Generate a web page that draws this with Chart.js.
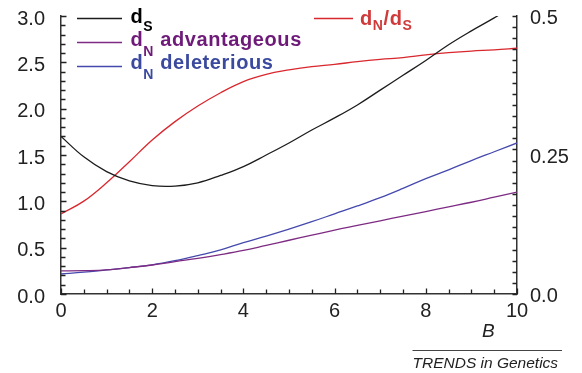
<!DOCTYPE html>
<html><head><meta charset="utf-8">
<script src="https://cdn.jsdelivr.net/npm/chart.js@4/dist/chart.umd.min.js"></script>
<style>html,body{margin:0;padding:0;background:#fff;}#wrap{width:582px;height:373px;position:relative;}</style>
</head><body><div id="wrap"><canvas id="c" width="582" height="373"></canvas></div>
<script>
// ---- data ----
const B = [0,0.5,1,1.5,2,2.5,3,3.5,4,4.5,5,5.5,6,6.5,7,7.5,8,8.5,9,9.5,10];
const dS     = [1.70,1.48,1.32,1.22,1.17,1.165,1.20,1.28,1.375,1.50,1.63,1.77,1.90,2.04,2.20,2.36,2.52,2.69,2.84,2.98,3.13];
const dNadv  = [0.25,0.252,0.26,0.285,0.313,0.35,0.385,0.425,0.47,0.525,0.58,0.635,0.69,0.74,0.79,0.84,0.89,0.94,0.99,1.045,1.10];
const dNdel  = [0.216,0.235,0.26,0.285,0.315,0.36,0.415,0.475,0.555,0.625,0.70,0.78,0.865,0.95,1.04,1.14,1.245,1.34,1.44,1.535,1.63];
const ratio  = [0.144,0.167,0.200,0.238,0.277,0.310,0.338,0.362,0.382,0.395,0.403,0.409,0.413,0.418,0.422,0.425,0.430,0.434,0.437,0.439,0.442];
const xTickStep = 2, xMinorStep = 0.5;
const yLeftMax = 3.0, yLeftStep = 0.5, yLeftMinor = 0.1;
const yRightMax = 0.5, yRightStep = 0.25, yRightMinor = 0.02;
const legendItems = [
  {parts:[['d',0],['S',1]], line:'#1c1c1c', text:'#000000'},
  {parts:[['d',0],['N',1],[' advantageous',0]], line:'#7d2b83', text:'#6e1a78'},
  {parts:[['d',0],['N',1],[' deleterious',0]], line:'#4549ad', text:'#3b4a9e'},
  {parts:[['d',0],['N',1],['/d',0],['S',1]], line:'#d9272e', text:'#cf3a3a'}
];
const footer = 'TRENDS in Genetics';
const xTitle = 'B';

const pts = arr => B.map((b,i)=>({x:b,y:arr[i]}));
const FONT = '"Liberation Sans", Arial, Helvetica, sans-serif';

const decor = {
  id:'decor',
  afterDraw(chart){
    const ctx = chart.ctx;
    const sx = chart.scales.x, sy = chart.scales.y, sy1 = chart.scales.y1;
    const ca = chart.chartArea;
    ctx.save();
    ctx.strokeStyle = '#222'; ctx.lineWidth = 1.3;
    // inward tick marks
    ctx.beginPath();
    for (let i=0; i<=Math.round(10/xMinorStep); i++){
      const v = i*xMinorStep;
      const px = Math.round(sx.getPixelForValue(v))+0.5;
      const major = (i % Math.round(xTickStep/xMinorStep))===0;
      ctx.moveTo(px, ca.bottom); ctx.lineTo(px, ca.bottom-(major?5.5:4.5));
    }
    for (let i=0; i<=Math.round(yLeftMax/yLeftMinor); i++){
      const v = i*yLeftMinor;
      const py = Math.round(sy.getPixelForValue(v))+0.5;
      const major = (i % Math.round(yLeftStep/yLeftMinor))===0;
      ctx.moveTo(ca.left, py); ctx.lineTo(ca.left+(major?5.5:4.5), py);
    }
    for (let i=0; i<=Math.round(yRightMax/yRightMinor); i++){
      const v = i*yRightMinor;
      const py = Math.round(sy1.getPixelForValue(v))+0.5;
      ctx.moveTo(ca.right, py); ctx.lineTo(ca.right-4.5, py);
    }
    ctx.stroke();

    // legend
    const pos = [
      {lx:77, lx2:122, ly:18.5, tx:130.5, by:22.5, sub:8},
      {lx:77, lx2:122, ly:42.5, tx:130.5, by:45.5, sub:10},
      {lx:77, lx2:122, ly:66.5, tx:130.5, by:68.5, sub:10},
      {lx:314, lx2:353, ly:18.5, tx:360, by:25, sub:5}
    ];
    legendItems.forEach((it,i)=>{
      const p = pos[i];
      ctx.strokeStyle = it.line; ctx.lineWidth = 1.3;
      ctx.beginPath(); ctx.moveTo(p.lx,p.ly); ctx.lineTo(p.lx2,p.ly); ctx.stroke();
      let cx = p.tx;
      ctx.fillStyle = it.text; ctx.textBaseline='alphabetic'; ctx.textAlign='left';
      try { ctx.letterSpacing = '0.6px'; } catch(e){}
      it.parts.forEach(([t,s])=>{
        ctx.font = s ? 'bold 14px '+FONT : 'bold 20px '+FONT;
        ctx.fillText(t, cx, s ? p.by+p.sub : p.by);
        cx += ctx.measureText(t).width;
      });
      try { ctx.letterSpacing = '0px'; } catch(e){}
    });

    // axis title
    ctx.fillStyle = '#222';
    ctx.font = 'italic 19px '+FONT;
    ctx.textAlign='left';
    ctx.fillText(xTitle, 482, 337);

    // footer
    ctx.strokeStyle = '#444'; ctx.lineWidth = 1;
    ctx.beginPath(); ctx.moveTo(412.5,350.5); ctx.lineTo(562,350.5); ctx.stroke();
    ctx.font = 'italic 15.5px '+FONT;
    ctx.fillStyle = '#222';
    ctx.fillText(footer, 412.5, 367.5);
    ctx.restore();
  }
};

const noPad = s => { s.paddingTop = 0; s.paddingBottom = 0; s.paddingLeft = 0; s.paddingRight = 0; };
const tickFont = {family: FONT, size: 20};
new Chart(document.getElementById('c'), {
  type:'line',
  data:{datasets:[
    {label:'dS', data:pts(dS), borderColor:'#1c1c1c', yAxisID:'y'},
    {label:'dN advantageous', data:pts(dNadv), borderColor:'#7d2b83', yAxisID:'y'},
    {label:'dN deleterious', data:pts(dNdel), borderColor:'#4549ad', yAxisID:'y'},
    {label:'dN/dS', data:pts(ratio), borderColor:'#d9272e', yAxisID:'y1'}
  ]},
  options:{
    responsive:false, animation:false,
    layout:{padding:{top:16,left:0,right:0,bottom:0}},
    elements:{line:{borderWidth:1.3, tension:0.4, fill:false}, point:{radius:0}},
    plugins:{legend:{display:false}, tooltip:{enabled:false}},
    scales:{
      x:{type:'linear', min:0, max:10,
         ticks:{stepSize:xTickStep, color:'#222', font:tickFont, padding:5, maxRotation:0},
         grid:{display:false, drawTicks:false},
         border:{display:true, color:'#333', width:1.5},
         afterFit(s){ s.height = 79; noPad(s); }},
      y:{type:'linear', position:'left', min:0, max:yLeftMax,
         ticks:{stepSize:yLeftStep, color:'#222', font:tickFont, padding:16, labelOffset:3,
                callback:v=>v.toFixed(1)},
         grid:{display:false, drawTicks:false},
         border:{display:true, color:'#333', width:1.5},
         afterFit(s){ s.width = 61; noPad(s); }},
      y1:{type:'linear', position:'right', min:0, max:yRightMax,
         ticks:{stepSize:yRightStep, color:'#222', font:tickFont, padding:13, labelOffset:2,
                callback:v=>(Math.abs(v-0.25)<1e-9?'0.25':v.toFixed(1))},
         grid:{display:false, drawTicks:false},
         border:{display:true, color:'#333', width:1.5},
         afterFit(s){ s.width = 65; noPad(s); }}
    }
  },
  plugins:[decor]
});
</script></body></html>
